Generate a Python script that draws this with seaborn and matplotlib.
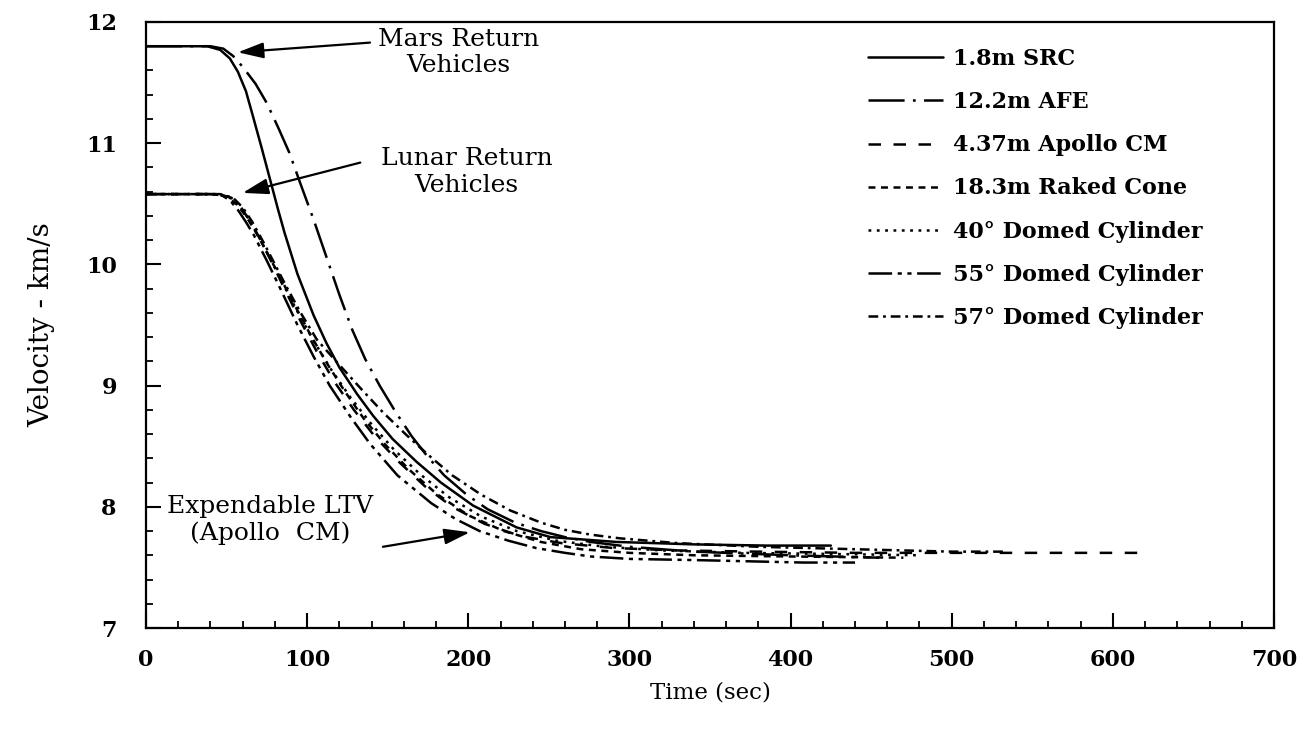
import matplotlib
matplotlib.use("Agg")
import matplotlib.pyplot as plt
from matplotlib.lines import Line2D
from matplotlib.ticker import MultipleLocator, AutoMinorLocator
import pandas as pd
import seaborn as sns

# ---- trajectory data: time (s) and velocity (km/s) per vehicle ----
series_names = [
    "1.8m SRC",
    "12.2m AFE",
    "4.37m Apollo CM",
    "18.3m Raked Cone",
    "40° Domed Cylinder",
    "55° Domed Cylinder",
    "57° Domed Cylinder",
]

src_t = [0, 20, 38, 46, 52, 57, 62, 66, 72, 77, 82, 86, 94, 104, 112, 120, 131,
         141, 153, 168, 183, 203, 230, 251, 292, 340, 385, 425]
src_v = [11.80, 11.80, 11.80, 11.77, 11.70, 11.59, 11.43, 11.24, 10.95, 10.70,
         10.45, 10.26, 9.92, 9.58, 9.35, 9.15, 8.93, 8.75, 8.56, 8.37, 8.20,
         8.01, 7.83, 7.75, 7.71, 7.69, 7.68, 7.68]

afe_t = [0, 40, 48, 54, 60, 68, 75, 82, 89, 96, 104, 112, 120, 128, 136, 145,
         155, 165, 175, 185, 199, 212, 229, 245, 260, 276, 300, 340, 400, 455]
afe_v = [11.80, 11.80, 11.78, 11.72, 11.63, 11.49, 11.33, 11.13, 10.92, 10.66,
         10.37, 10.06, 9.75, 9.46, 9.22, 9.00, 8.78, 8.58, 8.41, 8.26, 8.10,
         7.98, 7.87, 7.80, 7.75, 7.71, 7.67, 7.63, 7.60, 7.58]

apollo_t = [0, 45, 53, 59, 65, 72, 79, 87, 96, 106, 117, 129, 142, 157, 173,
            190, 210, 232, 258, 290, 330, 380, 440, 520, 616]
apollo_v = [10.58, 10.58, 10.55, 10.47, 10.35, 10.18, 9.99, 9.77, 9.53, 9.28,
            9.03, 8.80, 8.58, 8.37, 8.17, 8.00, 7.86, 7.76, 7.70, 7.66, 7.64,
            7.63, 7.62, 7.62, 7.62]

raked_t = [0, 42, 50, 56, 62, 68, 75, 83, 92, 102, 112, 123, 135, 148, 163,
           180, 200, 222, 245, 270, 300, 340, 400, 470]
raked_v = [10.58, 10.58, 10.56, 10.50, 10.40, 10.27, 10.10, 9.90, 9.67, 9.42,
           9.19, 8.96, 8.73, 8.52, 8.31, 8.11, 7.93, 7.80, 7.71, 7.65, 7.62,
           7.60, 7.59, 7.58]

dc40_t = [0, 44, 52, 58, 64, 70, 77, 85, 94, 104, 115, 127, 140, 154, 170, 188,
          208, 230, 255, 285, 320, 370, 430, 480]
dc40_v = [10.58, 10.58, 10.55, 10.48, 10.37, 10.23, 10.05, 9.84, 9.61, 9.37,
          9.13, 8.90, 8.68, 8.47, 8.27, 8.08, 7.92, 7.80, 7.72, 7.67, 7.64,
          7.62, 7.61, 7.60]

dc55_t = [0, 40, 47, 52, 57, 62, 67, 75, 83, 94, 104, 114, 127, 139, 156, 177,
          192, 207, 225, 242, 260, 276, 300, 342, 375, 408, 440]
dc55_v = [10.58, 10.58, 10.57, 10.53, 10.45, 10.35, 10.24, 10.03, 9.81, 9.50,
          9.24, 9.00, 8.74, 8.52, 8.26, 8.03, 7.90, 7.80, 7.72, 7.66, 7.62,
          7.59, 7.57, 7.56, 7.55, 7.54, 7.54]

dc57_t = [0, 46, 54, 60, 66, 73, 80, 87, 96, 106, 118, 133, 147, 161, 175, 190,
          208, 226, 245, 260, 276, 294, 330, 380, 440, 500, 532]
dc57_v = [10.58, 10.58, 10.55, 10.47, 10.35, 10.18, 10.00, 9.82, 9.60, 9.38,
          9.20, 8.98, 8.78, 8.60, 8.43, 8.26, 8.10, 7.97, 7.87, 7.81, 7.77,
          7.74, 7.70, 7.67, 7.65, 7.63, 7.63]

x_ticks = [0, 100, 200, 300, 400, 500, 600, 700]
y_ticks = [7, 8, 9, 10, 11, 12]

# ---- assemble a long table for seaborn ----
curves = [
    (src_t, src_v), (afe_t, afe_v), (apollo_t, apollo_v), (raked_t, raked_v),
    (dc40_t, dc40_v), (dc55_t, dc55_v), (dc57_t, dc57_v),
]
frames = []
for name, (t, v) in zip(series_names, curves):
    frames.append(pd.DataFrame({"Time": t, "Velocity": v, "Vehicle": name}))
df = pd.concat(frames, ignore_index=True)

# dash patterns in points (on, off, ...)
dash_map = {
    "1.8m SRC": "",
    "12.2m AFE": (26, 6, 2, 6),
    "4.37m Apollo CM": (9, 9),
    "18.3m Raked Cone": (5, 4),
    "40° Domed Cylinder": (2, 4),
    "55° Domed Cylinder": (17, 4, 3, 4, 3, 4),
    "57° Domed Cylinder": (7, 3.5, 2, 3.5),
}

sns.set_theme(style="ticks")
plt.rcParams["font.family"] = ["DejaVu Serif"]
plt.rcParams["lines.scale_dashes"] = False
plt.rcParams["text.color"] = "black"
plt.rcParams["axes.labelcolor"] = "black"
plt.rcParams["xtick.color"] = "black"
plt.rcParams["ytick.color"] = "black"

fig = plt.figure(figsize=(13.04, 7.30), dpi=100)
ax = fig.add_axes([146 / 1304, 1 - 628 / 730, 1128 / 1304, 606 / 730])

sns.lineplot(
    data=df, x="Time", y="Velocity", style="Vehicle", style_order=series_names,
    dashes=dash_map, color="black", linewidth=1.8, estimator=None, sort=False,
    legend=False, ax=ax,
)

ax.set_xlim(0, 700)
ax.set_ylim(7, 12)
ax.xaxis.set_major_locator(MultipleLocator(100))
ax.yaxis.set_major_locator(MultipleLocator(1))
ax.xaxis.set_minor_locator(AutoMinorLocator(5))
ax.yaxis.set_minor_locator(AutoMinorLocator(5))
ax.set_xticks(x_ticks)
ax.set_yticks(y_ticks)
ax.set_xticklabels([str(v) for v in x_ticks])
ax.set_yticklabels([str(v) for v in y_ticks])

ax.tick_params(axis="both", which="major", direction="in", length=11, width=1.5,
               labelsize=16, colors="black")
ax.tick_params(axis="both", which="minor", direction="in", length=5, width=1.3,
               colors="black")
ax.tick_params(axis="x", which="major", pad=15)
ax.tick_params(axis="y", which="major", pad=21)
for lab in ax.get_xticklabels() + ax.get_yticklabels():
    lab.set_fontweight("bold")

for side in ["left", "right", "top", "bottom"]:
    ax.spines[side].set_visible(True)
    ax.spines[side].set_linewidth(1.6)
    ax.spines[side].set_color("black")

ax.set_xlabel("Time (sec)", fontsize=16.5, labelpad=8, color="black")
ax.set_ylabel("Velocity - km/s", fontsize=20, labelpad=22, color="black")

# ---- legend ----
handles = []
for name in series_names:
    d = dash_map[name]
    h = Line2D([], [], color="black", linewidth=1.8)
    if d:
        h.set_dashes(d)
    handles.append(h)
leg = ax.legend(handles, series_names, loc="upper left",
                bbox_to_anchor=(0.640, 0.957), frameon=False, handlelength=3.4,
                handletextpad=0.45, labelspacing=0.95, borderpad=0,
                borderaxespad=0,
                prop={"family": "DejaVu Serif", "weight": "bold", "size": 16})
for t in leg.get_texts():
    t.set_color("black")

# ---- annotations ----
txt_kw = dict(ha="center", va="center", fontsize=18, color="black",
              linespacing=1.2)
ax.text(194, 11.75, "Mars Return\nVehicles", **txt_kw)
ax.text(199, 10.76, "Lunar Return\nVehicles", **txt_kw)
ax.text(77, 7.89, "Expendable LTV\n(Apollo  CM)", **txt_kw)

arrow_kw = dict(arrowstyle="-|>,head_length=1.3,head_width=0.4", color="black",
                lw=1.6, shrinkA=0, shrinkB=0)
ax.annotate("", xy=(57, 11.75), xytext=(139, 11.83), arrowprops=arrow_kw)
ax.annotate("", xy=(60, 10.59), xytext=(133, 10.84), arrowprops=arrow_kw)
ax.annotate("", xy=(201, 7.79), xytext=(147, 7.67), arrowprops=arrow_kw)

fig.savefig("out.png", dpi=100, facecolor="white")
